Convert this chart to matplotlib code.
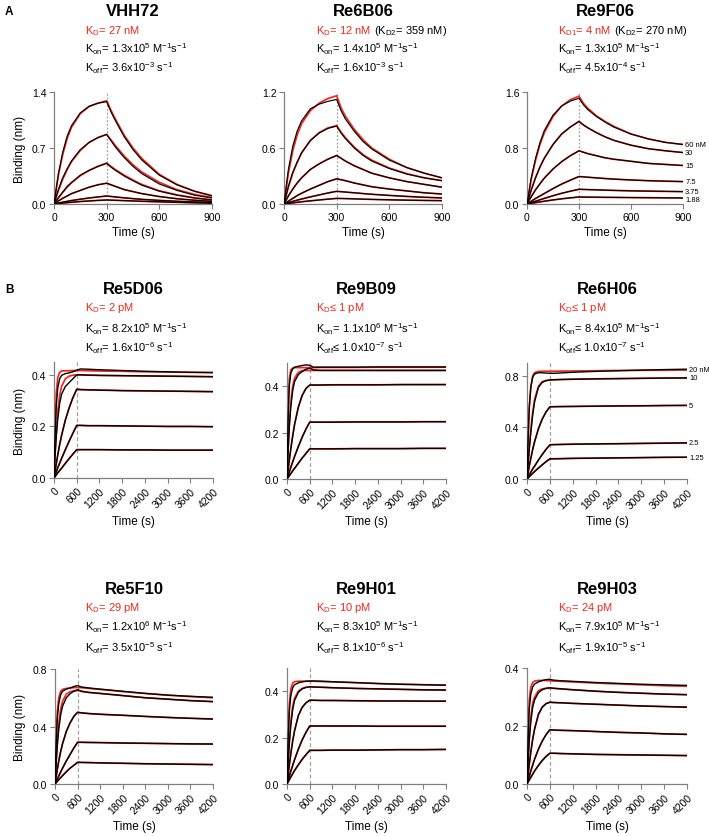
import matplotlib
matplotlib.use('Agg')
import matplotlib.pyplot as plt

plt.rcParams['font.family'] = ['Liberation Sans', 'DejaVu Sans']
plt.rcParams['mathtext.default'] = 'regular'
plt.rcParams['axes.unicode_minus'] = True

W, H = 709, 837
RED = '#f0281c'

# ---- A: time grid (s)
t_A = [0, 25, 50, 75, 100, 150, 200, 250, 300, 325, 350, 400, 450, 500, 600, 700, 800, 900]

vhh72_obs = [
    [0, 0.38, 0.65, 0.85, 0.98, 1.14, 1.22, 1.26, 1.28, 1.15, 1.04, 0.84, 0.68, 0.55, 0.36, 0.24, 0.16, 0.10],
    [0, 0.18, 0.33, 0.44, 0.54, 0.68, 0.77, 0.83, 0.87, 0.79, 0.71, 0.58, 0.47, 0.38, 0.25, 0.17, 0.11, 0.075],
    [0, 0.08, 0.15, 0.22, 0.27, 0.36, 0.42, 0.47, 0.51, 0.46, 0.42, 0.35, 0.29, 0.235, 0.16, 0.11, 0.075, 0.05],
    [0, 0.038, 0.072, 0.10, 0.13, 0.17, 0.21, 0.24, 0.26, 0.24, 0.22, 0.18, 0.155, 0.13, 0.093, 0.066, 0.047, 0.033],
    [0, 0.012, 0.023, 0.033, 0.043, 0.06, 0.075, 0.088, 0.10, 0.094, 0.088, 0.077, 0.067, 0.058, 0.045, 0.034, 0.026, 0.02],
    [0, 0.006, 0.012, 0.017, 0.022, 0.031, 0.038, 0.045, 0.05, 0.048, 0.046, 0.042, 0.038, 0.034, 0.027, 0.021, 0.015, 0.01],
]
vhh72_fit = [
    [0, 0.36, 0.62, 0.82, 0.96, 1.13, 1.22, 1.26, 1.29, 1.17, 1.06, 0.86, 0.70, 0.57, 0.37, 0.245, 0.16, 0.105],
    [0, 0.17, 0.31, 0.43, 0.53, 0.67, 0.77, 0.83, 0.87, 0.80, 0.73, 0.60, 0.49, 0.40, 0.27, 0.18, 0.12, 0.08],
    [0, 0.075, 0.145, 0.21, 0.265, 0.355, 0.42, 0.47, 0.51, 0.47, 0.43, 0.36, 0.30, 0.245, 0.165, 0.115, 0.077, 0.052],
    vhh72_obs[3], vhh72_obs[4], vhh72_obs[5],
]

re6b06_obs = [
    [0, 0.37, 0.62, 0.78, 0.89, 1.02, 1.07, 1.10, 1.12, 1.00, 0.91, 0.78, 0.67, 0.59, 0.47, 0.39, 0.33, 0.28],
    [0, 0.19, 0.34, 0.45, 0.55, 0.68, 0.76, 0.81, 0.835, 0.76, 0.70, 0.60, 0.52, 0.46, 0.38, 0.32, 0.28, 0.25],
    [0, 0.086, 0.16, 0.225, 0.28, 0.37, 0.43, 0.48, 0.52, 0.49, 0.46, 0.41, 0.37, 0.33, 0.28, 0.24, 0.21, 0.18],
    [0, 0.03, 0.06, 0.09, 0.115, 0.16, 0.20, 0.24, 0.27, 0.26, 0.25, 0.225, 0.205, 0.185, 0.16, 0.14, 0.12, 0.107],
    [0, 0.014, 0.028, 0.041, 0.053, 0.076, 0.097, 0.118, 0.136, 0.132, 0.128, 0.12, 0.112, 0.104, 0.092, 0.081, 0.072, 0.065],
    [0, 0.006, 0.012, 0.018, 0.024, 0.034, 0.043, 0.052, 0.06, 0.059, 0.058, 0.055, 0.052, 0.049, 0.045, 0.041, 0.038, 0.036],
]
re6b06_fit = [
    [0, 0.33, 0.57, 0.74, 0.86, 1.00, 1.08, 1.13, 1.16, 1.03, 0.94, 0.80, 0.69, 0.60, 0.48, 0.39, 0.33, 0.28],
    [0, 0.18, 0.33, 0.445, 0.545, 0.68, 0.765, 0.815, 0.84, 0.77, 0.71, 0.61, 0.53, 0.47, 0.385, 0.325, 0.28, 0.25],
    re6b06_obs[2], re6b06_obs[3], re6b06_obs[4], re6b06_obs[5],
]

re9f06_obs = [
    [0, 0.38, 0.66, 0.88, 1.05, 1.27, 1.40, 1.47, 1.51, 1.42, 1.35, 1.25, 1.17, 1.10, 1.00, 0.93, 0.88, 0.85],
    [0, 0.205, 0.38, 0.53, 0.655, 0.85, 1.00, 1.10, 1.18, 1.13, 1.09, 1.02, 0.96, 0.91, 0.84, 0.79, 0.76, 0.735],
    [0, 0.108, 0.205, 0.29, 0.37, 0.50, 0.605, 0.69, 0.76, 0.74, 0.72, 0.69, 0.66, 0.64, 0.61, 0.58, 0.565, 0.55],
    [0, 0.04, 0.08, 0.115, 0.15, 0.22, 0.285, 0.34, 0.393, 0.388, 0.383, 0.373, 0.364, 0.356, 0.343, 0.333, 0.326, 0.32],
    [0, 0.02, 0.04, 0.06, 0.08, 0.118, 0.153, 0.183, 0.21, 0.208, 0.206, 0.202, 0.198, 0.194, 0.188, 0.184, 0.18, 0.177],
    [0, 0.01, 0.02, 0.03, 0.04, 0.058, 0.074, 0.088, 0.10, 0.099, 0.098, 0.097, 0.095, 0.094, 0.092, 0.09, 0.088, 0.086],
]
re9f06_fit = [
    [0, 0.36, 0.63, 0.85, 1.02, 1.25, 1.40, 1.49, 1.54, 1.44, 1.37, 1.26, 1.18, 1.11, 1.00, 0.93, 0.88, 0.85],
    re9f06_obs[1], re9f06_obs[2], re9f06_obs[3], re9f06_obs[4], re9f06_obs[5],
]
re9f06_conc = ['60 nM', '30', '15', '7.5', '3.75', '1.88']

# ---- B: time grid (s)
t_B = [0, 30, 60, 100, 150, 200, 300, 400, 500, 600, 700, 900, 1200, 1800, 2400, 3000, 3600, 4200]

re5d06_obs = [
    [0, 0.17, 0.28, 0.35, 0.385, 0.398, 0.405, 0.408, 0.412, 0.418, 0.423, 0.422, 0.42, 0.417, 0.414, 0.412, 0.41, 0.409],
    [0, 0.09, 0.16, 0.23, 0.29, 0.325, 0.355, 0.37, 0.385, 0.40, 0.40, 0.399, 0.398, 0.397, 0.396, 0.395, 0.394, 0.393],
    [0, 0.028, 0.055, 0.09, 0.13, 0.165, 0.225, 0.272, 0.312, 0.344, 0.343, 0.342, 0.341, 0.339, 0.338, 0.337, 0.336, 0.335],
    [0, 0.012, 0.024, 0.04, 0.058, 0.076, 0.11, 0.143, 0.174, 0.204, 0.204, 0.203, 0.203, 0.202, 0.201, 0.2, 0.2, 0.199],
    [0, 0.006, 0.012, 0.02, 0.029, 0.038, 0.057, 0.075, 0.093, 0.11, 0.11, 0.11, 0.11, 0.109, 0.109, 0.108, 0.108, 0.108],
]
re5d06_fit = [
    [0, 0.21, 0.33, 0.39, 0.41, 0.415, 0.416, 0.416, 0.417, 0.417, 0.417, 0.416, 0.415, 0.414, 0.412, 0.411, 0.41, 0.409],
    [0, 0.10, 0.18, 0.26, 0.32, 0.355, 0.385, 0.395, 0.399, 0.40, 0.40, 0.399, 0.398, 0.397, 0.396, 0.395, 0.394, 0.393],
    re5d06_obs[2], re5d06_obs[3], re5d06_obs[4],
]

re9b09_obs = [
    [0, 0.26, 0.40, 0.455, 0.475, 0.482, 0.486, 0.489, 0.492, 0.49, 0.482, 0.482, 0.482, 0.482, 0.483, 0.483, 0.483, 0.483],
    [0, 0.12, 0.22, 0.31, 0.38, 0.42, 0.45, 0.463, 0.473, 0.478, 0.47, 0.468, 0.468, 0.468, 0.468, 0.468, 0.468, 0.468],
    [0, 0.04, 0.08, 0.13, 0.185, 0.235, 0.31, 0.36, 0.39, 0.405, 0.405, 0.405, 0.406, 0.406, 0.406, 0.407, 0.407, 0.407],
    [0, 0.015, 0.03, 0.05, 0.074, 0.097, 0.14, 0.18, 0.215, 0.245, 0.245, 0.245, 0.245, 0.246, 0.246, 0.246, 0.247, 0.247],
    [0, 0.007, 0.014, 0.023, 0.035, 0.046, 0.068, 0.09, 0.11, 0.13, 0.13, 0.13, 0.13, 0.131, 0.131, 0.131, 0.132, 0.132],
]
re9b09_fit = [
    [0, 0.30, 0.43, 0.47, 0.478, 0.48, 0.48, 0.48, 0.48, 0.48, 0.48, 0.481, 0.481, 0.481, 0.482, 0.482, 0.482, 0.482],
    [0, 0.13, 0.24, 0.33, 0.40, 0.435, 0.46, 0.467, 0.468, 0.468, 0.468, 0.468, 0.468, 0.468, 0.468, 0.468, 0.468, 0.468],
    re9b09_obs[2], re9b09_obs[3], re9b09_obs[4],
]

re6h06_obs = [
    [0, 0.33, 0.56, 0.71, 0.79, 0.815, 0.825, 0.824, 0.822, 0.82, 0.82, 0.823, 0.828, 0.835, 0.84, 0.845, 0.849, 0.852],
    [0, 0.12, 0.23, 0.36, 0.50, 0.60, 0.71, 0.75, 0.762, 0.768, 0.77, 0.772, 0.774, 0.777, 0.779, 0.781, 0.783, 0.784],
    [0, 0.05, 0.10, 0.16, 0.23, 0.29, 0.39, 0.465, 0.52, 0.56, 0.561, 0.562, 0.563, 0.565, 0.567, 0.568, 0.57, 0.571],
    [0, 0.016, 0.032, 0.053, 0.078, 0.10, 0.147, 0.19, 0.23, 0.265, 0.267, 0.268, 0.27, 0.272, 0.274, 0.276, 0.278, 0.28],
    [0, 0.009, 0.018, 0.03, 0.044, 0.058, 0.085, 0.11, 0.135, 0.156, 0.157, 0.158, 0.16, 0.162, 0.164, 0.166, 0.168, 0.169],
]
re6h06_fit = [
    [0, 0.30, 0.55, 0.72, 0.80, 0.825, 0.835, 0.836, 0.836, 0.836, 0.836, 0.837, 0.838, 0.84, 0.842, 0.843, 0.844, 0.845],
    [0, 0.13, 0.25, 0.38, 0.52, 0.62, 0.72, 0.755, 0.765, 0.768, 0.77, 0.772, 0.774, 0.777, 0.779, 0.781, 0.783, 0.784],
    re6h06_obs[2], re6h06_obs[3], re6h06_obs[4],
]
re6h06_conc = ['20 nM', '10', '5', '2.5', '1.25']

re5f10_obs = [
    [0, 0.28, 0.45, 0.56, 0.62, 0.645, 0.66, 0.668, 0.678, 0.685, 0.675, 0.668, 0.66, 0.645, 0.63, 0.618, 0.61, 0.603],
    [0, 0.14, 0.26, 0.38, 0.48, 0.54, 0.60, 0.628, 0.645, 0.657, 0.645, 0.637, 0.63, 0.615, 0.60, 0.59, 0.58, 0.573],
    [0, 0.05, 0.10, 0.16, 0.225, 0.28, 0.365, 0.425, 0.47, 0.499, 0.495, 0.49, 0.485, 0.478, 0.47, 0.463, 0.457, 0.452],
    [0, 0.017, 0.034, 0.056, 0.083, 0.11, 0.16, 0.205, 0.25, 0.29, 0.29, 0.289, 0.288, 0.285, 0.283, 0.281, 0.279, 0.278],
    [0, 0.009, 0.018, 0.03, 0.044, 0.058, 0.085, 0.11, 0.13, 0.151, 0.15, 0.149, 0.147, 0.144, 0.141, 0.139, 0.137, 0.135],
]
re5f10_fit = [
    [0, 0.32, 0.50, 0.60, 0.645, 0.658, 0.665, 0.668, 0.67, 0.672, 0.67, 0.665, 0.658, 0.643, 0.63, 0.618, 0.608, 0.60],
    [0, 0.16, 0.29, 0.42, 0.52, 0.575, 0.625, 0.642, 0.648, 0.65, 0.645, 0.637, 0.63, 0.615, 0.60, 0.59, 0.58, 0.573],
    re5f10_obs[2], re5f10_obs[3], re5f10_obs[4],
]

re9h01_obs = [
    [0, 0.19, 0.31, 0.38, 0.415, 0.428, 0.436, 0.44, 0.443, 0.444, 0.444, 0.443, 0.441, 0.437, 0.433, 0.43, 0.428, 0.426],
    [0, 0.09, 0.17, 0.25, 0.32, 0.36, 0.395, 0.41, 0.416, 0.419, 0.418, 0.417, 0.415, 0.412, 0.41, 0.408, 0.406, 0.405],
    [0, 0.04, 0.08, 0.13, 0.185, 0.23, 0.295, 0.33, 0.35, 0.361, 0.361, 0.36, 0.36, 0.359, 0.358, 0.358, 0.357, 0.357],
    [0, 0.017, 0.033, 0.055, 0.08, 0.105, 0.15, 0.19, 0.222, 0.25, 0.25, 0.25, 0.25, 0.25, 0.249, 0.249, 0.249, 0.249],
    [0, 0.009, 0.018, 0.03, 0.044, 0.058, 0.083, 0.106, 0.126, 0.145, 0.145, 0.145, 0.146, 0.146, 0.147, 0.148, 0.148, 0.149],
]
re9h01_fit = [
    [0, 0.22, 0.34, 0.41, 0.435, 0.441, 0.443, 0.443, 0.443, 0.443, 0.443, 0.442, 0.44, 0.437, 0.433, 0.43, 0.428, 0.426],
    [0, 0.10, 0.185, 0.27, 0.335, 0.37, 0.40, 0.412, 0.417, 0.419, 0.418, 0.417, 0.415, 0.412, 0.41, 0.408, 0.406, 0.405],
    re9h01_obs[2], re9h01_obs[3], re9h01_obs[4],
]

re9h03_obs = [
    [0, 0.16, 0.26, 0.31, 0.335, 0.345, 0.352, 0.357, 0.36, 0.361, 0.358, 0.356, 0.354, 0.35, 0.347, 0.344, 0.342, 0.34],
    [0, 0.08, 0.15, 0.215, 0.265, 0.29, 0.315, 0.325, 0.33, 0.332, 0.33, 0.328, 0.325, 0.32, 0.316, 0.313, 0.31, 0.308],
    [0, 0.035, 0.068, 0.11, 0.155, 0.19, 0.24, 0.265, 0.277, 0.282, 0.281, 0.28, 0.278, 0.275, 0.272, 0.269, 0.267, 0.265],
    [0, 0.014, 0.027, 0.045, 0.066, 0.086, 0.12, 0.148, 0.17, 0.187, 0.186, 0.185, 0.184, 0.181, 0.178, 0.176, 0.173, 0.171],
    [0, 0.007, 0.014, 0.023, 0.034, 0.045, 0.064, 0.081, 0.095, 0.106, 0.106, 0.105, 0.104, 0.102, 0.101, 0.1, 0.099, 0.098],
]
re9h03_fit = [
    [0, 0.19, 0.29, 0.335, 0.35, 0.355, 0.357, 0.357, 0.357, 0.356, 0.355, 0.354, 0.352, 0.348, 0.345, 0.342, 0.339, 0.337],
    [0, 0.09, 0.165, 0.23, 0.28, 0.30, 0.322, 0.328, 0.33, 0.33, 0.33, 0.328, 0.325, 0.32, 0.316, 0.313, 0.31, 0.308],
    re9h03_obs[2], re9h03_obs[3], re9h03_obs[4],
]

xticks_A = [0, 300, 600, 900]
xticks_B = [0, 600, 1200, 1800, 2400, 3000, 3600, 4200]

# name, t, obs, fit, inject end, ymax, yticks, box (l,t,r,b px), KD red, KD extra, Kon, Koff, conc labels
panels = [
    ('VHH72', t_A, vhh72_obs, vhh72_fit, 300, 1.4, [0, 0.7, 1.4], (54, 93, 212, 205),
     'K$_D$= 27 nM', '', 'K$_{on}$= 1.3x10$^{5}$ M$^{-1}$s$^{-1}$', 'K$_{off}$= 3.6x10$^{-3}$ s$^{-1}$', None),
    ('Re6B06', t_A, re6b06_obs, re6b06_fit, 300, 1.2, [0, 0.6, 1.2], (284, 93, 442, 205),
     'K$_D$= 12 nM', ' (K$_{D2}$= 359 nM)', 'K$_{on}$= 1.4x10$^{5}$ M$^{-1}$s$^{-1}$', 'K$_{off}$= 1.6x10$^{-3}$ s$^{-1}$', None),
    ('Re9F06', t_A, re9f06_obs, re9f06_fit, 300, 1.6, [0, 0.8, 1.6], (527, 93, 683, 205),
     'K$_{D1}$= 4 nM', ' (K$_{D2}$= 270 nM)', 'K$_{on}$= 1.3x10$^{5}$ M$^{-1}$s$^{-1}$', 'K$_{off}$= 4.5x10$^{-4}$ s$^{-1}$', re9f06_conc),
    ('Re5D06', t_B, re5d06_obs, re5d06_fit, 600, 0.45, [0, 0.2, 0.4], (54, 363, 213, 479),
     'K$_D$= 2 pM', '', 'K$_{on}$= 8.2x10$^{5}$ M$^{-1}$s$^{-1}$', 'K$_{off}$= 1.6x10$^{-6}$ s$^{-1}$', None),
    ('Re9B09', t_B, re9b09_obs, re9b09_fit, 600, 0.5, [0, 0.2, 0.4], (287, 364, 446, 480),
     'K$_D$≤ 1 pM', '', 'K$_{on}$= 1.1x10$^{6}$ M$^{-1}$s$^{-1}$', 'K$_{off}$≤ 1.0x10$^{-7}$ s$^{-1}$', None),
    ('Re6H06', t_B, re6h06_obs, re6h06_fit, 600, 0.9, [0, 0.4, 0.8], (527, 364, 687, 480),
     'K$_D$≤ 1 pM', '', 'K$_{on}$= 8.4x10$^{5}$ M$^{-1}$s$^{-1}$', 'K$_{off}$≤ 1.0x10$^{-7}$ s$^{-1}$', re6h06_conc),
    ('Re5F10', t_B, re5f10_obs, re5f10_fit, 600, 0.8, [0, 0.4, 0.8], (55, 670, 213, 785),
     'K$_D$= 29 pM', '', 'K$_{on}$= 1.2x10$^{6}$ M$^{-1}$s$^{-1}$', 'K$_{off}$= 3.5x10$^{-5}$ s$^{-1}$', None),
    ('Re9H01', t_B, re9h01_obs, re9h01_fit, 600, 0.5, [0, 0.2, 0.4], (287, 669, 446, 785),
     'K$_D$= 10 pM', '', 'K$_{on}$= 8.3x10$^{5}$ M$^{-1}$s$^{-1}$', 'K$_{off}$= 8.1x10$^{-6}$ s$^{-1}$', None),
    ('Re9H03', t_B, re9h03_obs, re9h03_fit, 600, 0.4, [0, 0.2, 0.4], (527, 669, 687, 785),
     'K$_D$= 24 pM', '', 'K$_{on}$= 7.9x10$^{5}$ M$^{-1}$s$^{-1}$', 'K$_{off}$= 1.9x10$^{-5}$ s$^{-1}$', None),
]

# text rows (px, baseline): title, KD, Kon, Koff, "Time (s)" centre
text_rows = [
    (16, 34, 53, 72, 233),
    (294, 311, 333, 352, 522),
    (594, 611, 631, 652, 827),
]
text_x = [85, 316, 558]

fig = plt.figure(figsize=(W / 100, H / 100), dpi=100)
renderer = fig.canvas.get_renderer()


def ftext(x, y, s, **kw):
    return fig.text(x / W, 1 - y / H, s, **kw)


for k, (name, t, obs, fit, inj, ymax, yticks, box, kd, kd2, kon, koff, conc) in enumerate(panels):
    row, col = divmod(k, 3)
    l, tp, r, b = box
    ax = fig.add_axes([l / W, 1 - b / H, (r - l) / W, (b - tp) / H])

    ax.axvline(inj, color='#a0a0a0', lw=0.9, ls=(0, (1.5, 1.5)) if row == 0 else (0, (3, 2)), zorder=1)
    for f, o in zip(fit, obs):
        ax.plot(t, f, color=RED, lw=1.25, zorder=2, solid_capstyle='butt')
        ax.plot(t, o, color='black', lw=0.85 if row == 0 else 1.0, zorder=3, solid_capstyle='butt')

    ax.set_xlim(0, t[-1])
    ax.set_ylim(0, ymax)
    ax.set_yticks(yticks)
    ax.set_yticklabels([f'{v:.1f}' for v in yticks], fontsize=7.5)
    if row == 0:
        ax.set_xticks(xticks_A)
        ax.set_xticklabels([str(v) for v in xticks_A], fontsize=7.5)
    else:
        ax.set_xticks(xticks_B)
        ax.set_xticklabels([str(v) for v in xticks_B], fontsize=7.5,
                           rotation=45, ha='right', rotation_mode='anchor')
    for s in ['top', 'right']:
        ax.spines[s].set_visible(False)
    for s in ['left', 'bottom']:
        ax.spines[s].set_color('#808080')
        ax.spines[s].set_linewidth(0.9)
    ax.tick_params(direction='out', length=3.5, width=0.8, color='#808080', pad=2)

    if conc:
        for i, lbl in enumerate(conc):
            dy = -1.2 if lbl == '1.88' else 0
            ax.annotate(lbl, xy=(t[-1], obs[i][-1]), xytext=(1.5, dy), textcoords='offset points',
                        fontsize=5.4, va='center', ha='left', annotation_clip=False)

    cx = (l + r) / 2
    ty, y1, y2, y3, ylab = text_rows[row]
    ftext(cx, ty, name, fontsize=12, fontweight='bold', ha='center', va='baseline')
    x0 = text_x[col]
    t1 = ftext(x0, y1, kd, fontsize=8, color=RED, ha='left', va='baseline')
    if kd2:
        bb = t1.get_window_extent(renderer)
        fig.text(bb.x1 / fig.bbox.width, 1 - y1 / H, kd2, fontsize=8, color='black', ha='left', va='baseline')
    ftext(x0, y2, kon, fontsize=8, ha='left', va='baseline')
    ftext(x0, y3, koff, fontsize=8, ha='left', va='baseline')
    ftext(cx, ylab, 'Time (s)', fontsize=8.5, ha='center', va='center')
    if col == 0:
        ftext(20, (tp + b) / 2, 'Binding (nm)', fontsize=8.5, ha='center', va='center', rotation=90)

ftext(5, 15, 'A', fontsize=8.5, fontweight='bold', ha='left', va='baseline')
ftext(5, 293, 'B', fontsize=8.5, fontweight='bold', ha='left', va='baseline')

fig.savefig('out.png', dpi=100, facecolor='white')
